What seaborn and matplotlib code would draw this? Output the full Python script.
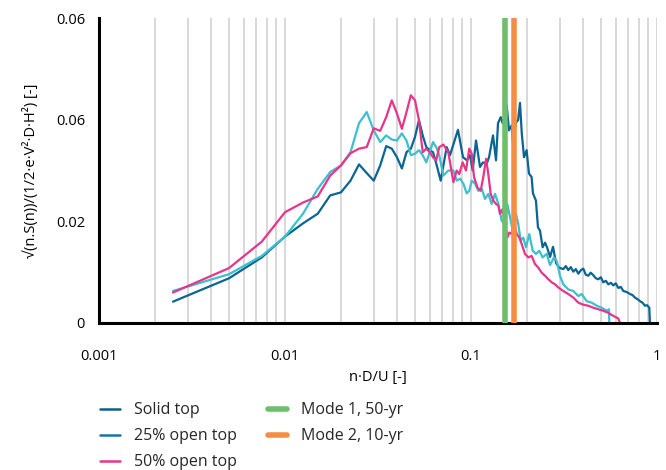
import numpy as np
import pandas as pd
import matplotlib
matplotlib.use("Agg")
import matplotlib.pyplot as plt
from matplotlib.lines import Line2D
import seaborn as sns

# ---- data ----
solid_x = [0.0025, 0.005, 0.0075, 0.01, 0.0125, 0.015, 0.0175, 0.02, 0.0225, 0.025,
           0.0275, 0.03, 0.0325, 0.035, 0.0375, 0.04, 0.0425, 0.045, 0.0475, 0.05,
           0.0525, 0.055, 0.0575, 0.06, 0.0625, 0.065, 0.0687, 0.074, 0.0771, 0.0851,
           0.0906, 0.0951, 0.0988, 0.1021, 0.1064, 0.1118, 0.116, 0.1214, 0.125, 0.1313,
           0.1363, 0.1397, 0.1445, 0.148, 0.1523, 0.1556, 0.16, 0.1656, 0.1682, 0.1746,
           0.1791, 0.1834, 0.1875, 0.1928, 0.199, 0.205, 0.2118, 0.2153, 0.2234, 0.2291,
           0.2349, 0.2427, 0.25, 0.2563, 0.2661, 0.2761, 0.2866, 0.2972, 0.3134, 0.3235,
           0.3335, 0.344, 0.3548, 0.366, 0.3776, 0.39, 0.4017, 0.414, 0.4272, 0.44,
           0.4546, 0.469, 0.4836, 0.499, 0.5144, 0.531, 0.5472, 0.565, 0.5821, 0.60,
           0.6193, 0.639, 0.6588, 0.687, 0.7157, 0.738, 0.7614, 0.785, 0.81, 0.835,
           0.8617, 0.885, 0.9092, 0.916]
solid_y = [0.0042, 0.0088, 0.0129, 0.0170, 0.0196, 0.0215, 0.0251, 0.0257, 0.0280, 0.0312,
           0.0295, 0.0280, 0.0310, 0.0348, 0.0343, 0.0326, 0.0304, 0.0336, 0.0343, 0.0366,
           0.0399, 0.0369, 0.0346, 0.0340, 0.0336, 0.0314, 0.0280, 0.0346, 0.0330, 0.0380,
           0.0326, 0.0320, 0.0330, 0.0300, 0.0359, 0.0307, 0.0316, 0.0313, 0.0326, 0.0369,
           0.0320, 0.0393, 0.0405, 0.0393, 0.0408, 0.0428, 0.0379, 0.0389, 0.0353, 0.0395,
           0.0399, 0.0433, 0.0373, 0.0326, 0.0340, 0.0294, 0.0287, 0.0255, 0.0241, 0.0188,
           0.0182, 0.0149, 0.0158, 0.0149, 0.0130, 0.0150, 0.0118, 0.0109, 0.0106, 0.0112,
           0.0104, 0.0110, 0.0101, 0.0106, 0.0097, 0.0104, 0.0107, 0.0095, 0.0093, 0.0099,
           0.0094, 0.0088, 0.0086, 0.0090, 0.0080, 0.0083, 0.0076, 0.0079, 0.0074, 0.0078,
           0.0069, 0.0071, 0.0063, 0.0061, 0.0057, 0.0055, 0.0050, 0.0047, 0.0043, 0.0040,
           0.0034, 0.0035, 0.0030, 0.0]

open25_x = [0.0025, 0.005, 0.0075, 0.01, 0.0125, 0.015, 0.0175, 0.02, 0.0225, 0.025,
            0.0275, 0.03, 0.0325, 0.035, 0.0375, 0.04, 0.0425, 0.045, 0.0475, 0.05,
            0.0525, 0.055, 0.0575, 0.06, 0.0625, 0.065, 0.0675, 0.071, 0.0755, 0.0804,
            0.0838, 0.0873, 0.091, 0.0948, 0.0979, 0.1009, 0.1052, 0.1094, 0.1143, 0.1189,
            0.1239, 0.1291, 0.1346, 0.1403, 0.1462, 0.1523, 0.1567, 0.1622, 0.1675, 0.1746,
            0.1795, 0.185, 0.191, 0.1977, 0.2057, 0.2148, 0.2234, 0.2328, 0.2427, 0.2553,
            0.2661, 0.2793, 0.289, 0.3008, 0.3134, 0.3335, 0.3548, 0.3776, 0.3936, 0.4188,
            0.4456, 0.4742, 0.5045, 0.537, 0.5521, 0.554]
open25_y = [0.0063, 0.0096, 0.0132, 0.0170, 0.0215, 0.0264, 0.0297, 0.0310, 0.0336, 0.0393,
            0.0415, 0.0379, 0.0356, 0.0369, 0.0361, 0.0359, 0.0373, 0.0359, 0.0330, 0.0333,
            0.0340, 0.0330, 0.0316, 0.0336, 0.0356, 0.0346, 0.0330, 0.0290, 0.0300, 0.0300,
            0.0280, 0.0284, 0.0274, 0.0255, 0.0260, 0.0280, 0.0274, 0.0260, 0.0264, 0.0244,
            0.0254, 0.0234, 0.0254, 0.0234, 0.0201, 0.0195, 0.0234, 0.0208, 0.0182, 0.0214,
            0.0195, 0.0162, 0.0168, 0.0149, 0.0175, 0.0142, 0.0136, 0.0142, 0.0129, 0.0136,
            0.0114, 0.0129, 0.0122, 0.0093, 0.0076, 0.0066, 0.0063, 0.0053, 0.0057, 0.0043,
            0.0040, 0.0034, 0.0030, 0.0024, 0.0027, 0.0]

open50_x = [0.0025, 0.005, 0.0075, 0.01, 0.0125, 0.015, 0.0175, 0.02, 0.0225, 0.025,
            0.0275, 0.03, 0.0325, 0.035, 0.0375, 0.04, 0.0425, 0.045, 0.0475, 0.05,
            0.0525, 0.055, 0.0575, 0.06, 0.0625, 0.065, 0.0675, 0.071, 0.0755, 0.0804,
            0.0838, 0.0865, 0.0902, 0.094, 0.0979, 0.1009, 0.1038, 0.1082, 0.1127, 0.1164,
            0.1205, 0.1239, 0.1276, 0.1318, 0.1363, 0.1403, 0.1432, 0.148, 0.1523, 0.1567,
            0.1607, 0.1656, 0.1703, 0.1762, 0.182, 0.1875, 0.195, 0.2033, 0.2118, 0.2208,
            0.23, 0.2399, 0.25, 0.2606, 0.2716, 0.283, 0.2945, 0.3134, 0.3335, 0.3548,
            0.3776, 0.4017, 0.4272, 0.4546, 0.4836, 0.5144, 0.5472, 0.5821, 0.6193, 0.6324]
open50_y = [0.0060, 0.0108, 0.0160, 0.0218, 0.0237, 0.0249, 0.0290, 0.0310, 0.0334, 0.0343,
            0.0346, 0.0383, 0.0378, 0.0405, 0.0438, 0.0412, 0.0382, 0.0415, 0.0448, 0.0438,
            0.0399, 0.0336, 0.0343, 0.0336, 0.0326, 0.0320, 0.0346, 0.0351, 0.0336, 0.0277,
            0.0300, 0.0293, 0.0316, 0.0300, 0.0343, 0.0333, 0.0287, 0.0267, 0.0260, 0.0287,
            0.0323, 0.0293, 0.0254, 0.0241, 0.0234, 0.0231, 0.0215, 0.0224, 0.0195, 0.0168,
            0.0178, 0.0175, 0.0195, 0.0175, 0.0168, 0.0155, 0.0136, 0.0129, 0.0132, 0.0116,
            0.0109, 0.0099, 0.0093, 0.0086, 0.0080, 0.0076, 0.0070, 0.0063, 0.0057, 0.0050,
            0.0040, 0.0036, 0.0034, 0.0030, 0.0027, 0.0024, 0.0020, 0.0014, 0.0009, 0.0]

mode_freqs = [0.152, 0.170]
mode_labels = ["Mode 1, 50-yr", "Mode 2, 10-yr"]
series_labels = ["Solid top", "25% open top", "50% open top"]

ytick_vals = [0, 0.02, 0.04, 0.06]
ytick_labels = ["0", "0.02", "0.06", "0.06"]
xtick_vals = [0.001, 0.01, 0.1, 1]
xtick_labels = ["0.001", "0.01", "0.1", "1"]

line_colors = ["#0b6593", "#3dbfd0", "#e8358a"]
legend_colors = ["#0b5f8a", "#1d72a3", "#e8358a"]
mode_colors = ["#6dbf6a", "#f68d45"]

df = pd.concat([
    pd.DataFrame({"x": solid_x, "y": solid_y, "series": series_labels[0]}),
    pd.DataFrame({"x": open25_x, "y": open25_y, "series": series_labels[1]}),
    pd.DataFrame({"x": open50_x, "y": open50_y, "series": series_labels[2]}),
])

sns.set_theme(style="white")
plt.rcParams["font.family"] = ["Open Sans", "DejaVu Sans"]

fig = plt.figure(figsize=(6.66, 4.70), dpi=100)
ax = fig.add_axes([99 / 666, 1 - 323 / 470, (657 - 99) / 666, (323 - 18) / 470])

ax.set_xscale("log")
ax.set_xlim(0.001, 1)
ax.set_ylim(0, 0.06)

# vertical grid at every decade sub-step
ax.grid(True, which="both", axis="x", color="#d2d2d2", lw=1.2)
ax.grid(False, axis="y")
ax.set_axisbelow(True)

sns.lineplot(data=df, x="x", y="y", hue="series", palette=line_colors,
             hue_order=series_labels, lw=1.6, legend=False, ax=ax,
             estimator=None, sort=False)

for f, c in zip(mode_freqs, mode_colors):
    ax.axvline(f, color=c, lw=4, zorder=5)

ax.set_xticks(xtick_vals)
ax.set_xticklabels(xtick_labels)
ax.set_yticks(ytick_vals)
ax.set_yticklabels(ytick_labels)
ax.tick_params(axis="x", which="both", length=0, pad=19, labelsize=10.5, colors="black")
ax.tick_params(axis="y", length=0, pad=10, labelsize=10.5, colors="black")

for s in ["top", "right"]:
    ax.spines[s].set_visible(False)
for s in ["left", "bottom"]:
    ax.spines[s].set_color("black")
    ax.spines[s].set_linewidth(2.2)

ax.set_xlabel("n·D/U [-]", fontsize=10.5, color="black", labelpad=4)
ax.set_ylabel("√(n.S(n))/(1/2·e·V²·D·H²) [-]", fontsize=10.5, color="black", labelpad=12)

handles = [Line2D([0], [0], color=c, lw=1.8) for c in legend_colors]
handles += [Line2D([0], [0], color=c, lw=4, solid_capstyle="round") for c in mode_colors]
labels = series_labels + mode_labels
fig.legend(handles, labels, loc="upper left", bbox_to_anchor=(94 / 666, 1 - 396 / 470),
           ncol=2, frameon=False, fontsize=11.5, handlelength=1.2, handletextpad=0.9,
           columnspacing=1.95, labelspacing=0.62, borderaxespad=0)

fig.savefig("out.png", dpi=100)
